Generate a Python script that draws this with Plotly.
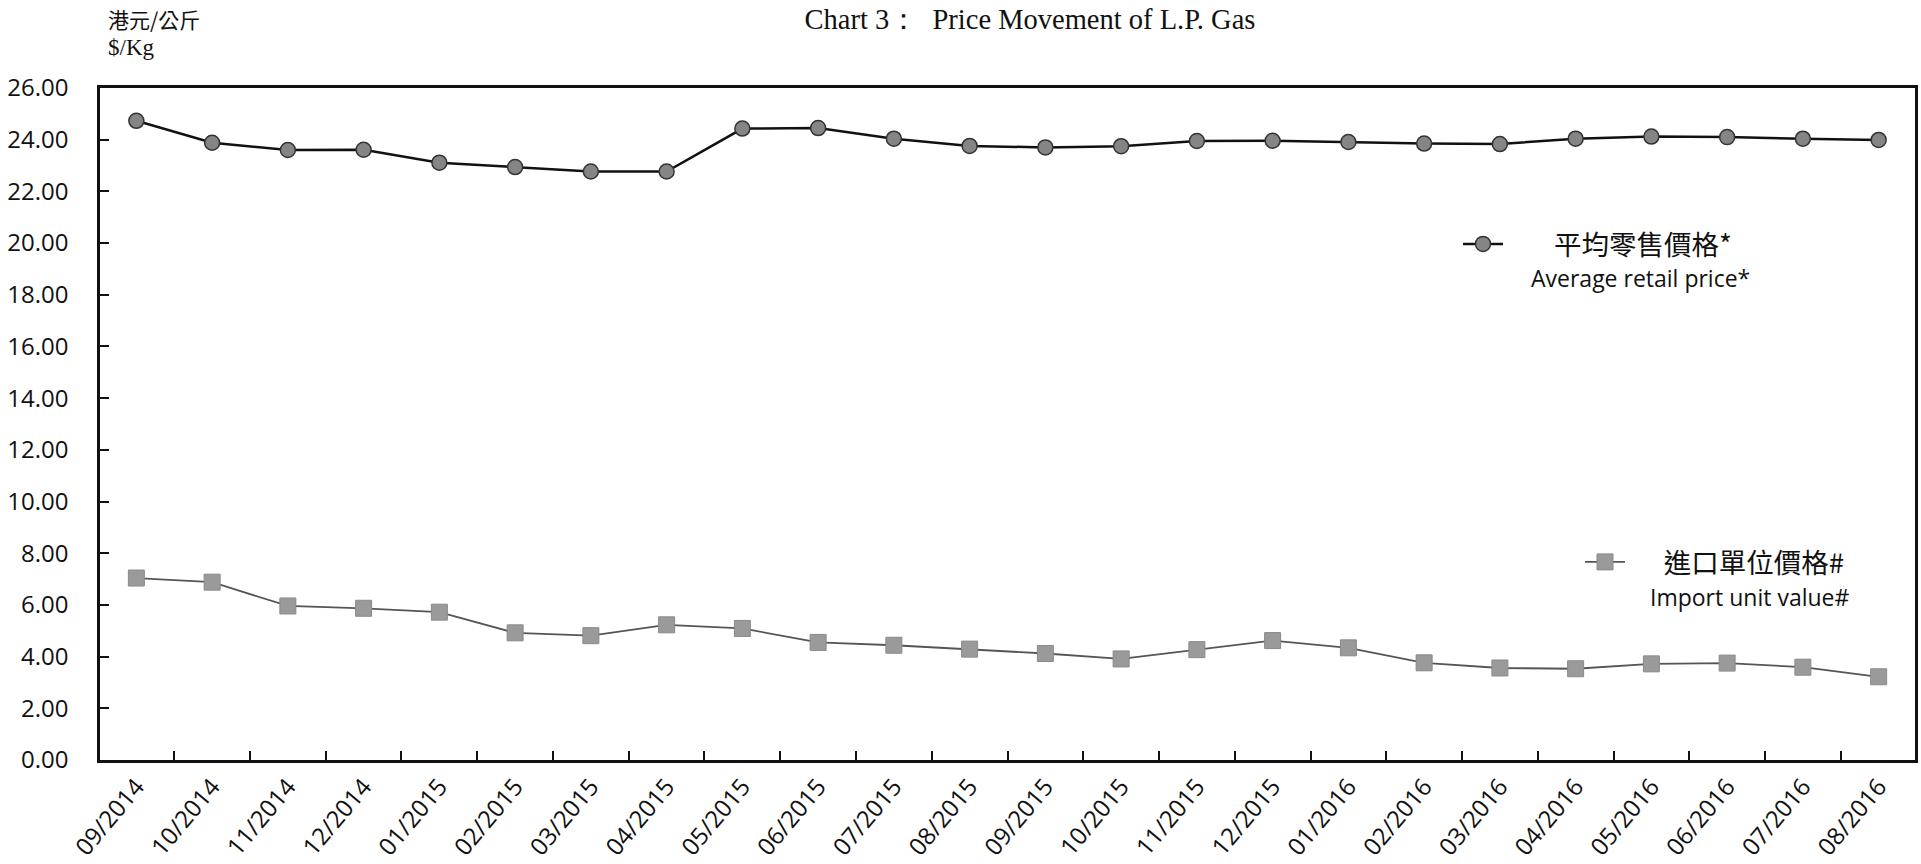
import plotly.graph_objects as go

months = ["09/2014", "10/2014", "11/2014", "12/2014", "01/2015", "02/2015", "03/2015", "04/2015",
          "05/2015", "06/2015", "07/2015", "08/2015", "09/2015", "10/2015", "11/2015", "12/2015",
          "01/2016", "02/2016", "03/2016", "04/2016", "05/2016", "06/2016", "07/2016", "08/2016"]

retail_price = [24.73, 23.88, 23.60, 23.61, 23.11, 22.94, 22.77, 22.77,
                24.43, 24.45, 24.04, 23.76, 23.70, 23.75, 23.95, 23.96,
                23.91, 23.85, 23.83, 24.04, 24.12, 24.10, 24.04, 23.99]

import_value = [7.04, 6.88, 5.96, 5.87, 5.72, 4.92, 4.81, 5.23,
                5.09, 4.55, 4.44, 4.29, 4.12, 3.91, 4.27, 4.62,
                4.34, 3.76, 3.56, 3.53, 3.72, 3.75, 3.59, 3.22]

y_ticks = [0, 2, 4, 6, 8, 10, 12, 14, 16, 18, 20, 22, 24, 26]

name_retail_zh = "平均零售價格*"
name_retail_en = "Average retail price*"
name_import_zh = "進口單位價格#"
name_import_en = "Import unit value#"

title_text = "Chart 3：  Price Movement of L.P. Gas"
unit_zh = "港元/公斤"
unit_en = "$/Kg"

SANS = "'Open Sans', Lato, sans-serif"
CJK = "'Noto Sans CJK TC', 'Noto Sans CJK SC', sans-serif"
SERIF = "'Liberation Serif', 'DejaVu Serif', serif"

W, H = 1921, 864
# plot area in screen pixels
P_L, P_R, P_T, P_B = 100, 1915, 88, 760
ML, MR, MT, MB = P_L, W - P_R, P_T, H - P_B


def px(xs):
    return (xs - P_L) / (P_R - P_L)


def py(ys):
    return (P_B - ys) / (P_B - P_T)


fig = go.Figure()
fig.add_trace(go.Scatter(
    x=months, y=retail_price, mode="lines+markers",
    name="　   " + name_retail_zh, legend="legend",
    line=dict(color="#111111", width=2.5),
    marker=dict(symbol="circle", size=15, color="#858585", line=dict(color="#333333", width=1.5)),
))
fig.add_trace(go.Scatter(
    x=months, y=import_value, mode="lines+markers",
    name="　 " + name_import_zh, legend="legend2",
    line=dict(color="#555555", width=1.8),
    marker=dict(symbol="square", size=16, color="#9a9a9a", line=dict(color="#8a8a8a", width=1)),
))

fig.update_layout(
    width=W, height=H,
    margin=dict(l=ML, r=MR, t=MT, b=MB, autoexpand=False),
    paper_bgcolor="white", plot_bgcolor="white",
    showlegend=True,
    legend=dict(x=px(1458), y=py(244), xanchor="left", yanchor="middle", bgcolor="rgba(0,0,0,0)",
                font=dict(family=CJK, size=27.5, color="#111"), itemwidth=40),
    legend2=dict(x=px(1580), y=py(562), xanchor="left", yanchor="middle", bgcolor="rgba(0,0,0,0)",
                 font=dict(family=CJK, size=27.5, color="#111"), itemwidth=40),
    title=dict(text=title_text, x=1030 / W, xref="container", xanchor="center",
               y=1 - 19 / H, yref="container", yanchor="middle",
               font=dict(family=SERIF, size=28.5, color="#111")),
    xaxis=dict(
        type="category", range=[-0.48, 23.48], automargin=False,
        showline=True, linecolor="#111", linewidth=3, mirror=True,
        ticks="inside", tickson="boundaries", ticklen=9, tickwidth=2, tickcolor="#111",
        tickangle=-50, tickfont=dict(family=SANS, size=24, color="#111"),
        showgrid=False, zeroline=False,
    ),
    yaxis=dict(
        range=[0, 26], tickvals=y_ticks, tickformat=".2f", automargin=False,
        showline=True, linecolor="#111", linewidth=2.5, mirror=True,
        ticks="inside", ticklen=9, tickwidth=2, tickcolor="#111",
        tickfont=dict(family=SANS, size=24, color="#111"), ticklabelstandoff=24,
        showgrid=False, zeroline=False,
    ),
    annotations=[
        dict(text=name_retail_en, x=px(1640), y=py(278), xref="paper", yref="paper",
             xanchor="center", yanchor="middle", showarrow=False,
             font=dict(family=SANS, size=23, color="#111")),
        dict(text=name_import_en, x=px(1749), y=py(597), xref="paper", yref="paper",
             xanchor="center", yanchor="middle", showarrow=False,
             font=dict(family=SANS, size=23, color="#111")),
        dict(text=unit_zh, x=px(106), y=py(19), xref="paper", yref="paper",
             xanchor="left", yanchor="middle", showarrow=False,
             font=dict(family=CJK, size=21, color="#111")),
        dict(text=unit_en, x=px(106), y=py(48), xref="paper", yref="paper",
             xanchor="left", yanchor="middle", showarrow=False,
             font=dict(family=SERIF, size=23, color="#111")),
    ],
)

fig.write_html(
    "out.html",
    config={"displayModeBar": False},
    post_script="document.body.style.margin='0';document.body.style.overflow='hidden';",
)
